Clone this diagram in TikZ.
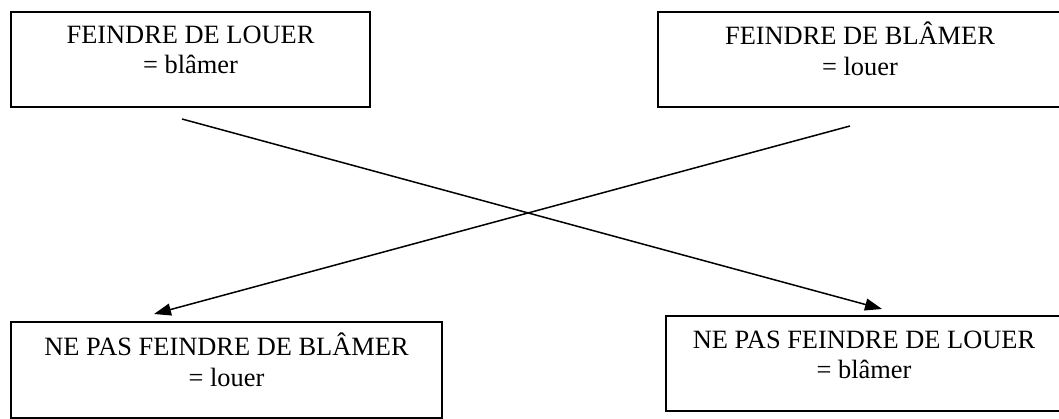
\documentclass[tikz,border=0pt]{standalone}
\usepackage{fontspec}
\setmainfont{Liberation Serif}
\usetikzlibrary{arrows.meta,calc}
\begin{document}
\begin{tikzpicture}[x=1pt,y=-1pt,
  frame/.style={draw=black, line width=2pt, rectangle, inner sep=0pt, anchor=north west},
  caption/.style={anchor=north, inner sep=0pt, align=center,
    font=\fontsize{26.4}{30.4}\selectfont},
  link/.style={line width=1.5pt, -{Triangle[length=17pt,width=12pt]}}]
\useasboundingbox (0,0) rectangle (1059,419);

% the four boxes
\node[frame, minimum width=359pt, minimum height=95pt] (tl) at (10,11) {};
\node[frame, minimum width=404pt, minimum height=95pt] (tr) at (657,11) {};
\node[frame, minimum width=431pt, minimum height=96pt] (bl) at (10,321) {};
\node[frame, minimum width=396pt, minimum height=95pt] (br) at (665,315) {};

% their texts
\node[caption] (tlt) at ($(tl.north)+(0,11)$) {\strut FEINDRE DE LOUER\\= blâmer};
\node[caption] (trt) at ($(tr.north)+(0,11)$) {\strut FEINDRE DE BLÂMER\\= louer};
\node[caption] (blt) at ($(bl.north)+(0,12)$) {\strut NE PAS FEINDRE DE BLÂMER\\= louer};
\node[caption] (brt) at ($(br.north)+(0,12)$) {\strut NE PAS FEINDRE DE LOUER\\= blâmer};

% crossing arrows
\coordinate (a1s) at ($(tl.south west)+(172,11)$);
\coordinate (a1e) at ($(br.north west)+(217,-6)$);
\coordinate (a2s) at ($(tr.south west)+(193,18)$);
\coordinate (a2e) at ($(bl.north west)+(144,-7)$);
\draw[link] (a1s) -- (a1e);
\draw[link] (a2s) -- (a2e);
\end{tikzpicture}
\end{document}
